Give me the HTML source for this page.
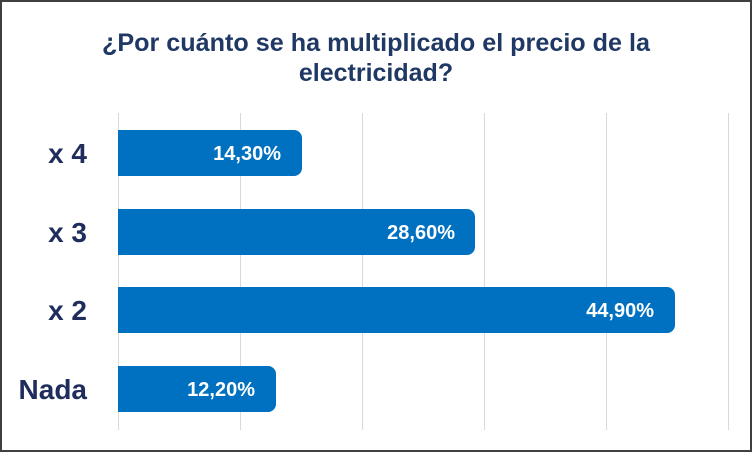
<!DOCTYPE html>
<html><head><meta charset="utf-8"><style>
body{margin:0;}
svg{display:block;font-family:"Liberation Sans",sans-serif;}
</style></head><body>
<svg width="752" height="452" viewBox="0 0 752 452" xmlns="http://www.w3.org/2000/svg">
<rect x="0" y="0" width="752" height="452" fill="#fff"/>
<rect x="1" y="1" width="750" height="450" fill="none" stroke="#404040" stroke-width="2"/>
<text x="376" y="51" text-anchor="middle" font-size="25" font-weight="bold" fill="#1f3864" textLength="548" lengthAdjust="spacingAndGlyphs">¿Por cuánto se ha multiplicado el precio de la</text>
<text x="376" y="81" text-anchor="middle" font-size="25" font-weight="bold" fill="#1f3864">electricidad?</text>
<g stroke="#d9d9d9" stroke-width="1">
<line x1="118.5" y1="113" x2="118.5" y2="430"/>
<line x1="240.5" y1="113" x2="240.5" y2="430"/>
<line x1="362.5" y1="113" x2="362.5" y2="430"/>
<line x1="484.5" y1="113" x2="484.5" y2="430"/>
<line x1="606.5" y1="113" x2="606.5" y2="430"/>
<line x1="728.5" y1="113" x2="728.5" y2="430"/>
</g>
<g fill="#0070c0">
<path d="M118 130 H294 a8 8 0 0 1 8 8 V168 a8 8 0 0 1 -8 8 H118 Z"/>
<path d="M118 209 H467 a8 8 0 0 1 8 8 V247 a8 8 0 0 1 -8 8 H118 Z"/>
<path d="M118 287 H667 a8 8 0 0 1 8 8 V325 a8 8 0 0 1 -8 8 H118 Z"/>
<path d="M118 366 H268 a8 8 0 0 1 8 8 V404 a8 8 0 0 1 -8 8 H118 Z"/>
</g>
<g fill="#fff" font-size="20" font-weight="bold" text-anchor="end">
<text x="281" y="160">14,30%</text>
<text x="455" y="239">28,60%</text>
<text x="654" y="317">44,90%</text>
<text x="255" y="396">12,20%</text>
</g>
<g fill="#1f2d5c" font-size="28" font-weight="bold" text-anchor="end">
<text x="87" y="163">x 4</text>
<text x="87" y="242">x 3</text>
<text x="87" y="320">x 2</text>
<text x="87" y="399">Nada</text>
</g>
</svg>
</body></html>
